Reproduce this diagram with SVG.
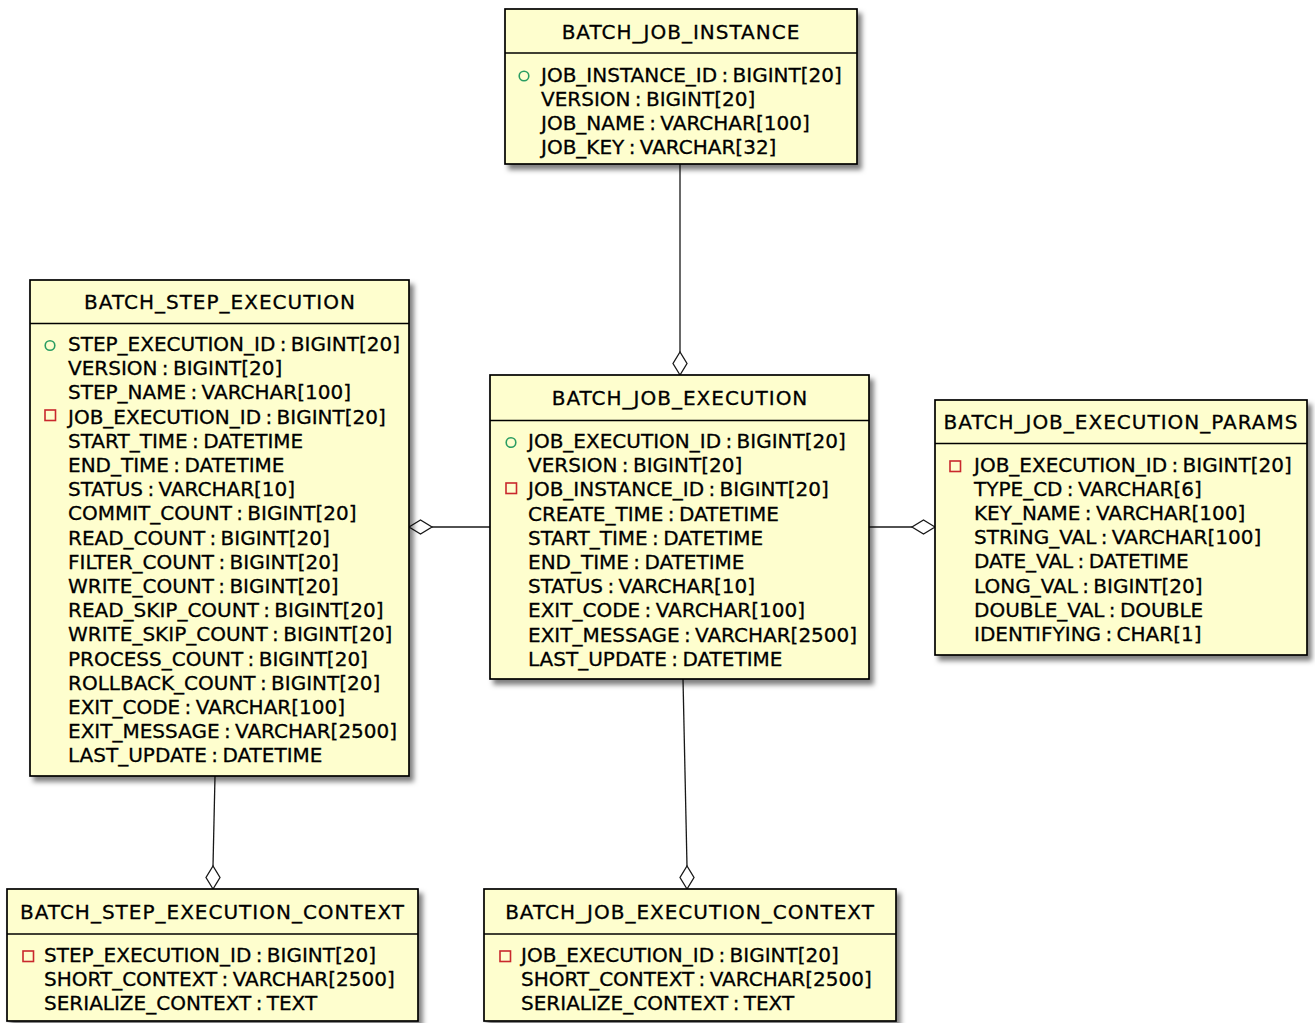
<svg xmlns="http://www.w3.org/2000/svg" width="1315" height="1023" viewBox="0 0 1315 1023">
<style>
.box{fill:#FEFECE;stroke:#000;stroke-width:1.7;filter:url(#sh)}
.div{stroke:#000;stroke-width:1.5}
.title{font-family:"DejaVu Sans",sans-serif;font-size:20px;letter-spacing:1px;text-anchor:middle;fill:#000;stroke:#000;stroke-width:0.3}
.attr{font-family:"DejaVu Sans",sans-serif;font-size:20px;word-spacing:-2px;fill:#000;stroke:#000;stroke-width:0.3}
.pk{fill:none;stroke:#2A9D62;stroke-width:1.6}
.fk{fill:none;stroke:#C9282D;stroke-width:1.6}
.edge{fill:none;stroke:#181818;stroke-width:1.3}
.dia{fill:#fff;stroke:#181818;stroke-width:1.3}
</style>
<defs>
<filter id="sh" x="-10%" y="-10%" width="130%" height="130%">
<feDropShadow dx="4" dy="5" stdDeviation="2.6" flood-color="#000" flood-opacity="0.5"/>
</filter>
</defs>

<g id="connectors">
<line class="edge" x1="680" y1="164" x2="680" y2="352"/>
<polygon class="dia" points="680,375 673,363.5 680,352 687,363.5"/>
<line class="edge" x1="432" y1="527" x2="490" y2="527"/>
<polygon class="dia" points="409,527 420.5,520 432,527 420.5,534"/>
<line class="edge" x1="869" y1="527" x2="912" y2="527"/>
<polygon class="dia" points="935,527 923.5,520 912,527 923.5,534"/>
<line class="edge" x1="215" y1="776" x2="213" y2="866"/>
<polygon class="dia" points="213,889 206,877.5 213,866 220,877.5"/>
<line class="edge" x1="683" y1="679" x2="687" y2="866"/>
<polygon class="dia" points="687,889 680,877.5 687,866 694,877.5"/>
</g>

<g id="BATCH_JOB_INSTANCE">
<rect class="box" x="505" y="9" width="352" height="155"/>
<line class="div" x1="505" y1="53" x2="857" y2="53"/>
<text class="title" x="681" y="38.5">BATCH_JOB_INSTANCE</text>
<circle class="pk" cx="524" cy="76" r="4.8"/>
<text class="attr" x="541" y="81.5">JOB_INSTANCE_ID : BIGINT[20]</text>
<text class="attr" x="541" y="105.7">VERSION : BIGINT[20]</text>
<text class="attr" x="541" y="129.9">JOB_NAME : VARCHAR[100]</text>
<text class="attr" x="541" y="154.1">JOB_KEY : VARCHAR[32]</text>
</g>

<g id="BATCH_STEP_EXECUTION">
<rect class="box" x="30" y="280" width="379" height="496"/>
<line class="div" x1="30" y1="323.5" x2="409" y2="323.5"/>
<text class="title" x="220" y="309">BATCH_STEP_EXECUTION</text>
<circle class="pk" cx="50" cy="345.5" r="4.8"/>
<rect class="fk" x="45" y="410" width="10.5" height="10.5"/>
<text class="attr" x="68" y="351">STEP_EXECUTION_ID : BIGINT[20]</text>
<text class="attr" x="68" y="375.2">VERSION : BIGINT[20]</text>
<text class="attr" x="68" y="399.4">STEP_NAME : VARCHAR[100]</text>
<text class="attr" x="68" y="423.6">JOB_EXECUTION_ID : BIGINT[20]</text>
<text class="attr" x="68" y="447.8">START_TIME : DATETIME</text>
<text class="attr" x="68" y="472">END_TIME : DATETIME</text>
<text class="attr" x="68" y="496.2">STATUS : VARCHAR[10]</text>
<text class="attr" x="68" y="520.4">COMMIT_COUNT : BIGINT[20]</text>
<text class="attr" x="68" y="544.6">READ_COUNT : BIGINT[20]</text>
<text class="attr" x="68" y="568.8">FILTER_COUNT : BIGINT[20]</text>
<text class="attr" x="68" y="593">WRITE_COUNT : BIGINT[20]</text>
<text class="attr" x="68" y="617.2">READ_SKIP_COUNT : BIGINT[20]</text>
<text class="attr" x="68" y="641.4">WRITE_SKIP_COUNT : BIGINT[20]</text>
<text class="attr" x="68" y="665.6">PROCESS_COUNT : BIGINT[20]</text>
<text class="attr" x="68" y="689.8">ROLLBACK_COUNT : BIGINT[20]</text>
<text class="attr" x="68" y="714">EXIT_CODE : VARCHAR[100]</text>
<text class="attr" x="68" y="738.2">EXIT_MESSAGE : VARCHAR[2500]</text>
<text class="attr" x="68" y="762.4">LAST_UPDATE : DATETIME</text>
</g>

<g id="BATCH_JOB_EXECUTION">
<rect class="box" x="490" y="375" width="379" height="304"/>
<line class="div" x1="490" y1="420.5" x2="869" y2="420.5"/>
<text class="title" x="680" y="405">BATCH_JOB_EXECUTION</text>
<circle class="pk" cx="511" cy="442.5" r="4.8"/>
<rect class="fk" x="506" y="483" width="10.5" height="10.5"/>
<text class="attr" x="528" y="448">JOB_EXECUTION_ID : BIGINT[20]</text>
<text class="attr" x="528" y="472.2">VERSION : BIGINT[20]</text>
<text class="attr" x="528" y="496.4">JOB_INSTANCE_ID : BIGINT[20]</text>
<text class="attr" x="528" y="520.6">CREATE_TIME : DATETIME</text>
<text class="attr" x="528" y="544.8">START_TIME : DATETIME</text>
<text class="attr" x="528" y="569">END_TIME : DATETIME</text>
<text class="attr" x="528" y="593.2">STATUS : VARCHAR[10]</text>
<text class="attr" x="528" y="617.4">EXIT_CODE : VARCHAR[100]</text>
<text class="attr" x="528" y="641.6">EXIT_MESSAGE : VARCHAR[2500]</text>
<text class="attr" x="528" y="665.8">LAST_UPDATE : DATETIME</text>
</g>

<g id="BATCH_JOB_EXECUTION_PARAMS">
<rect class="box" x="935" y="400" width="372" height="255"/>
<line class="div" x1="935" y1="443.5" x2="1307" y2="443.5"/>
<text class="title" x="1121" y="429">BATCH_JOB_EXECUTION_PARAMS</text>
<rect class="fk" x="950" y="461" width="10.5" height="10.5"/>
<text class="attr" x="974" y="471.5">JOB_EXECUTION_ID : BIGINT[20]</text>
<text class="attr" x="974" y="495.7">TYPE_CD : VARCHAR[6]</text>
<text class="attr" x="974" y="519.9">KEY_NAME : VARCHAR[100]</text>
<text class="attr" x="974" y="544.1">STRING_VAL : VARCHAR[100]</text>
<text class="attr" x="974" y="568.3">DATE_VAL : DATETIME</text>
<text class="attr" x="974" y="592.5">LONG_VAL : BIGINT[20]</text>
<text class="attr" x="974" y="616.7">DOUBLE_VAL : DOUBLE</text>
<text class="attr" x="974" y="640.9">IDENTIFYING : CHAR[1]</text>
</g>

<g id="BATCH_STEP_EXECUTION_CONTEXT">
<rect class="box" x="7" y="889" width="411" height="132"/>
<line class="div" x1="7" y1="934" x2="418" y2="934"/>
<text class="title" x="212.5" y="919">BATCH_STEP_EXECUTION_CONTEXT</text>
<rect class="fk" x="23" y="951" width="10.5" height="10.5"/>
<text class="attr" x="44" y="961.5">STEP_EXECUTION_ID : BIGINT[20]</text>
<text class="attr" x="44" y="985.7">SHORT_CONTEXT : VARCHAR[2500]</text>
<text class="attr" x="44" y="1009.9">SERIALIZE_CONTEXT : TEXT</text>
</g>

<g id="BATCH_JOB_EXECUTION_CONTEXT">
<rect class="box" x="484" y="889" width="412" height="132"/>
<line class="div" x1="484" y1="934" x2="896" y2="934"/>
<text class="title" x="690" y="919">BATCH_JOB_EXECUTION_CONTEXT</text>
<rect class="fk" x="500" y="951" width="10.5" height="10.5"/>
<text class="attr" x="521" y="961.5">JOB_EXECUTION_ID : BIGINT[20]</text>
<text class="attr" x="521" y="985.7">SHORT_CONTEXT : VARCHAR[2500]</text>
<text class="attr" x="521" y="1009.9">SERIALIZE_CONTEXT : TEXT</text>
</g>
</svg>
